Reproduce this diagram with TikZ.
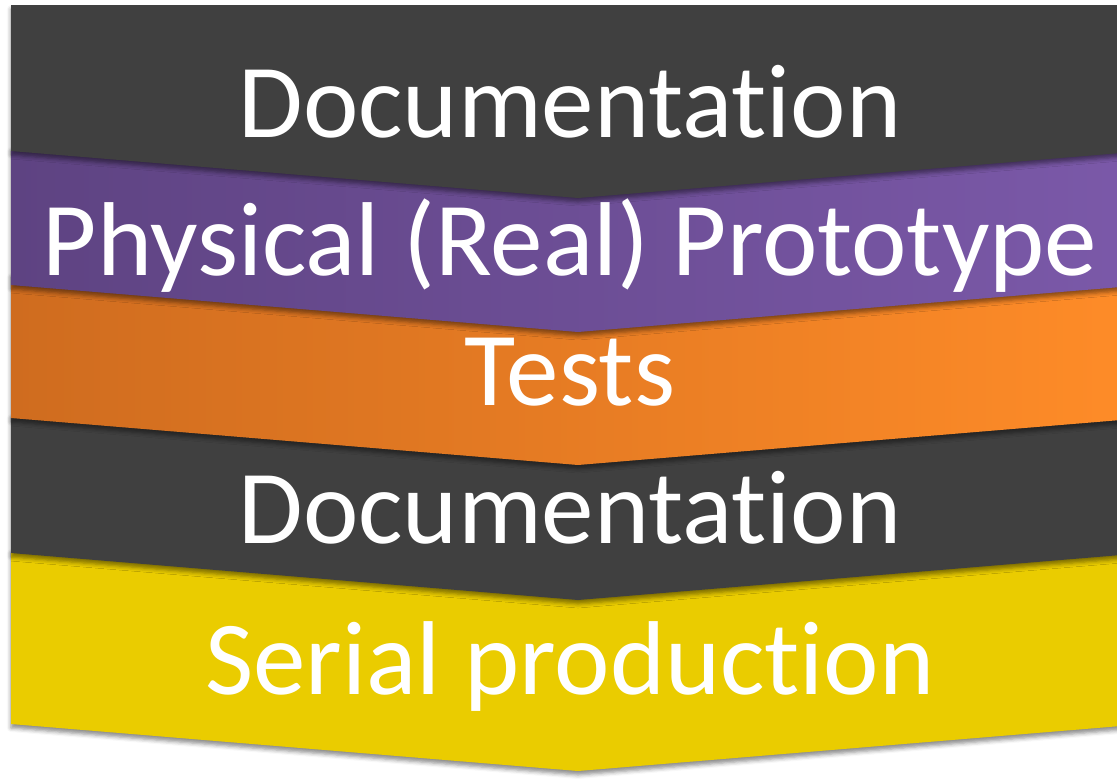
\documentclass[tikz,border=0pt]{standalone}
\usepackage{fontspec}
\setmainfont{Carlito}[Ligatures={NoCommon, NoRare}]
\usetikzlibrary{shadows.blur}
\definecolor{bandgray}{HTML}{404040}
\definecolor{purpleL}{HTML}{5E4382}
\definecolor{purpleR}{HTML}{7B59A9}
\definecolor{orangeL}{HTML}{CF6C1F}
\definecolor{orangeR}{HTML}{FF8C28}
\definecolor{bandyellow}{HTML}{EACC00}
\tikzset{
    band/.style={blur shadow={shadow xshift=0pt, shadow yshift=-4pt, shadow blur radius=4pt, shadow opacity=45}},
    bandtext/.style={text=white, font=\fontsize{105}{112}\selectfont, anchor=base, inner sep=0pt}
}
% chevron band: top edge, bottom edge (at the left side), style
\newcommand{\chevronband}[3]{%
    \path[band, #3] (11,#1) -- (578,{#1+47}) -- (1145,#1) -- (1145,#2) -- (578,{#2+47}) -- (11,#2) -- cycle;}

\begin{document}
\begin{tikzpicture}[x=1pt, y=-1pt]
\useasboundingbox (0,0) rectangle (1117,780);
\clip (0,0) rectangle (1117,780);

% Bands, drawn from the bottom up
\chevronband{549}{724}{fill=bandyellow}
\chevronband{414}{553}{fill=bandgray}
\chevronband{273}{418}{left color=orangeL, right color=orangeR}
\chevronband{147}{285}{left color=purpleL, right color=purpleR}
\path[band, fill=bandgray] (11,5) -- (1145,5) -- (1145,151) -- (578,198) -- (11,151) -- cycle;

% Labels
\node[bandtext] (docfirst) at (570,137) {Documentation};
\node[bandtext] (prototype) at (570,275) {Physical (Real) Prototype};
\node[bandtext] (tests) at (570,405) {Tests};
\node[bandtext] (docsecond) at (570,543) {Documentation};
\node[bandtext] (serial) at (570,694) {Serial production};

\end{tikzpicture}
\end{document}
